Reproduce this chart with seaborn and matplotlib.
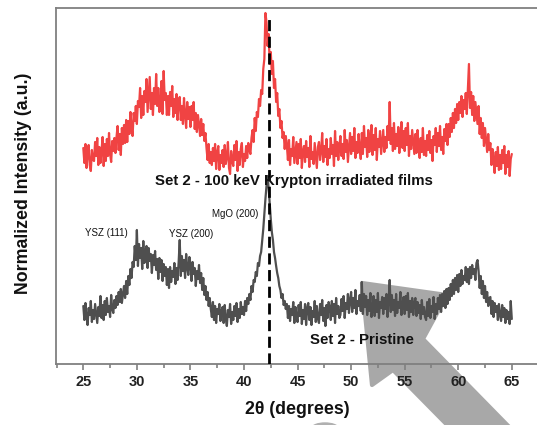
import numpy as np
import pandas as pd
import matplotlib
matplotlib.use("Agg")
import matplotlib.pyplot as plt
import matplotlib.patches as mpatches
import seaborn as sns

# 2theta grid, 25..65 in 0.1 deg steps
two_theta = np.round(np.arange(0, 401) * 0.1 + 25.0, 1)

# intensities (arbitrary units, baseline = 0)
# one row per degree: x.0 .. x.9
irradiated = [
    216, 201, 220, 196, 210, 219, 199, 193, 214, 204,   # 25
    203, 222, 208, 226, 199, 217, 201, 213, 227, 198,   # 26
    220, 203, 225, 208, 231, 210, 202, 223, 213, 226,   # 27
    211, 227, 238, 214, 230, 209, 236, 220, 239, 221,   # 28
    244, 222, 243, 230, 252, 236, 228, 251, 243, 258,   # 29
    240, 263, 257, 276, 246, 268, 249, 273, 262, 285,   # 30
    252, 269, 287, 255, 271, 249, 276, 260, 290, 258,   # 31
    276, 252, 259, 283, 250, 293, 264, 271, 249, 268,   # 32
    249, 272, 258, 278, 247, 265, 251, 270, 244, 263,   # 33
    267, 244, 258, 240, 266, 249, 236, 262, 245, 257,   # 34
    237, 258, 244, 262, 235, 251, 232, 249, 240, 228,   # 35
    245, 229, 240, 223, 231, 216, 204, 220, 201, 212,   # 36
    199, 216, 203, 220, 195, 211, 218, 194, 209, 201,   # 37
    214, 197, 219, 200, 207, 222, 196, 190, 213, 203,   # 38
    198, 219, 204, 223, 193, 212, 199, 215, 221, 197,   # 39
    210, 203, 218, 206, 221, 214, 210, 226, 234, 222,   # 40
    246, 233, 252, 247, 265, 258, 274, 270, 295, 305,   # 41
    351, 342, 318, 330, 300, 312, 290, 303, 276, 285,   # 42
    262, 271, 248, 255, 236, 243, 226, 232, 215, 228,   # 43
    219, 204, 224, 199, 215, 208, 227, 201, 211, 222,   # 44
    200, 220, 206, 225, 196, 213, 218, 202, 223, 207,   # 45
    216, 197, 228, 205, 212, 200, 221, 209, 196, 217,   # 46
    222, 204, 213, 231, 202, 218, 207, 225, 199, 215,   # 47
    206, 226, 210, 219, 198, 233, 208, 222, 204, 217,   # 48
    228, 208, 220, 205, 234, 212, 224, 202, 217, 231,   # 49
    210, 227, 213, 236, 206, 222, 211, 230, 216, 205,   # 50
    231, 210, 238, 217, 226, 207, 234, 212, 224, 239,   # 51
    209, 229, 214, 236, 204, 225, 217, 233, 210, 222,   # 52
    234, 212, 227, 216, 238, 224, 262, 220, 236, 213,   # 53
    241, 215, 230, 218, 237, 211, 228, 242, 216, 233,   # 54
    213, 236, 219, 241, 208, 228, 215, 234, 222, 210,   # 55
    230, 211, 234, 217, 206, 226, 212, 236, 209, 223,   # 56
    208, 229, 214, 233, 211, 224, 203, 228, 219, 236,   # 57
    212, 231, 218, 238, 214, 227, 210, 235, 223, 240,   # 58
    219, 240, 227, 246, 232, 251, 236, 255, 241, 260,   # 59
    244, 262, 251, 268, 247, 264, 255, 271, 250, 276,   # 60
    300, 256, 272, 249, 268, 243, 262, 251, 240, 258,   # 61
    230, 246, 226, 241, 218, 236, 224, 212, 230, 214,   # 62
    221, 199, 215, 204, 191, 212, 198, 217, 194, 209,   # 63
    195, 214, 201, 218, 190, 209, 197, 213, 188, 205,   # 64
    210,
]

pristine = [
    58, 44, 61, 47, 39, 56, 49, 63, 42, 54,             # 25
    45, 60, 50, 41, 57, 48, 68, 46, 59, 44,             # 26
    63, 49, 66, 52, 58, 47, 69, 55, 51, 64,             # 27
    56, 68, 59, 72, 62, 75, 61, 70, 78, 66,             # 28
    83, 70, 88, 79, 95, 86, 102, 97, 118, 104,          # 29
    134, 98, 120, 106, 116, 95, 123, 101, 112, 118,     # 30
    96, 116, 103, 110, 91, 109, 99, 113, 94, 105,       # 31
    85, 106, 92, 104, 83, 100, 88, 97, 79, 95,          # 32
    76, 97, 82, 93, 87, 101, 80, 96, 84, 102,           # 33
    124, 88, 108, 93, 104, 86, 110, 97, 89, 107,        # 34
    100, 83, 102, 90, 96, 78, 93, 85, 99, 81,           # 35
    91, 74, 86, 69, 78, 64, 72, 58, 66, 55,             # 36
    47, 62, 44, 58, 41, 55, 50, 60, 43, 53,             # 37
    57, 41, 59, 45, 38, 54, 47, 60, 40, 52,             # 38
    44, 58, 48, 61, 42, 55, 46, 62, 50, 57,             # 39
    49, 63, 53, 66, 60, 70, 64, 78, 72, 84,             # 40
    82, 92, 88, 101, 98, 108, 112, 124, 135, 150,       # 41
    165, 178, 188, 176, 160, 145, 132, 124, 112, 106,   # 42
    98, 91, 86, 78, 74, 66, 70, 59, 63, 55,             # 43
    60, 46, 58, 43, 55, 49, 62, 41, 57, 47,             # 44
    42, 59, 48, 62, 40, 54, 45, 60, 39, 56,             # 45
    61, 44, 57, 39, 53, 47, 63, 42, 58, 45,             # 46
    41, 60, 49, 64, 43, 56, 38, 59, 46, 62,             # 47
    57, 44, 63, 48, 60, 41, 66, 50, 58, 46,             # 48
    49, 65, 53, 68, 46, 61, 55, 70, 51, 64,             # 49
    72, 52, 66, 56, 74, 50, 63, 58, 69, 53,             # 50
    82, 50, 70, 57, 68, 49, 64, 53, 71, 47,             # 51
    55, 68, 48, 64, 52, 71, 46, 62, 56, 67,             # 52
    50, 66, 55, 70, 47, 63, 84, 52, 69, 54,             # 53
    64, 48, 70, 51, 62, 56, 72, 49, 60, 67,             # 54
    50, 68, 54, 71, 47, 63, 52, 66, 49, 61,             # 55
    66, 48, 62, 51, 59, 45, 64, 50, 57, 47,             # 56
    44, 62, 48, 65, 46, 58, 52, 67, 45, 60,             # 57
    50, 66, 55, 69, 52, 70, 58, 73, 56, 75,             # 58
    60, 76, 64, 80, 68, 84, 70, 86, 74, 89,             # 59
    72, 90, 78, 94, 80, 88, 84, 97, 82, 95,             # 60
    80, 97, 86, 99, 90, 95, 84, 101, 104, 93,           # 61
    76, 88, 70, 83, 66, 78, 62, 72, 58, 66,             # 62
    67, 50, 63, 47, 61, 52, 58, 44, 60, 49,             # 63
    43, 59, 47, 56, 41, 54, 45, 52, 40, 63,             # 64
    45,
]

peak_labels = ["YSZ (111)", "YSZ (200)", "MgO (200)"]
peak_label_x = [27.17, 35.1, 39.16]
peak_label_y = [131, 130, 150]
mgo_line = 42.35

df = pd.DataFrame({"two_theta": two_theta, "irr": irradiated, "pri": pristine})

sns.set_style("white")
plt.rcParams["font.family"] = ["Liberation Sans", "DejaVu Sans"]

W, H = 537, 425
fig = plt.figure(figsize=(W / 100, H / 100), dpi=100)
ax = fig.add_axes([56 / W, 61 / H, 504 / W, 356 / H])
ax.patch.set_alpha(0)

# decorative gray arrow behind the plot
arrow_px = [(362, 283), (447, 295), (423, 339), (522, 440),
            (462, 440), (393, 370), (372, 385)]
arrow = mpatches.Polygon([(x / W, 1 - y / H) for x, y in arrow_px],
                         closed=True, transform=fig.transFigure,
                         facecolor="#a8a8a8", edgecolor="#a8a8a8",
                         linewidth=3, joinstyle="round", zorder=-5)
fig.patches.append(arrow)
blob = mpatches.Ellipse((325 / W, 1 - 428 / H), 26 / W, 10 / H,
                        transform=fig.transFigure, color="#b0b0b0", zorder=-5)
fig.patches.append(blob)

sns.lineplot(data=df, x="two_theta", y="irr", ax=ax, color="#f04343",
             lw=1.6, estimator=None)
sns.lineplot(data=df, x="two_theta", y="pri", ax=ax, color="#4f4f4f",
             lw=1.6, estimator=None)
ax.vlines(mgo_line, 0, 349, colors="black", linestyles=(0, (4, 2)), lw=2, zorder=3)

ax.set_xlim(22.45, 69.5)
ax.set_ylim(0, 356)
ax.set_xticks([25, 30, 35, 40, 45, 50, 55, 60, 65])
ax.set_xticks(np.arange(22.5, 70, 5), minor=True)
ax.set_yticks([])
ax.tick_params(axis="x", which="major", direction="out", length=4, width=1.2,
               color="#808080", bottom=True, labelsize=10.5, pad=4)
ax.tick_params(axis="x", which="minor", direction="out", length=3, width=1.2,
               color="#808080", bottom=True)
for lab in ax.get_xticklabels():
    lab.set_fontweight("bold")
    lab.set_color("#222222")

for side in ["left", "bottom", "top", "right"]:
    ax.spines[side].set_color("#808080")
    ax.spines[side].set_linewidth(1.3)

ax.set_xlabel("2θ (degrees)", fontsize=12.8, fontweight="bold", color="#111111")
ax.set_ylabel("Normalized Intensity (a.u.)", fontsize=12.8, fontweight="bold",
              color="#111111")
ax.xaxis.set_label_coords(241 / 504, -46 / 356)
ax.xaxis.label.set_va("center")
ax.yaxis.set_label_coords(-32 / 504, 0.508)
ax.yaxis.label.set_va("center")

ax.text(44.66, 183, "Set 2 - 100 keV Krypton irradiated films", ha="center",
        va="center", fontsize=10.8, fontweight="bold", color="#111111", zorder=5)
ax.text(51.0, 24, "Set 2 - Pristine", ha="center", va="center", fontsize=10.8,
        fontweight="bold", color="#111111", zorder=5)
for lbl, lx, ly in zip(peak_labels, peak_label_x, peak_label_y):
    ax.text(lx, ly, lbl, ha="center", va="center", fontsize=7,
            color="#111111", zorder=5)

fig.savefig("out.png", dpi=100)
